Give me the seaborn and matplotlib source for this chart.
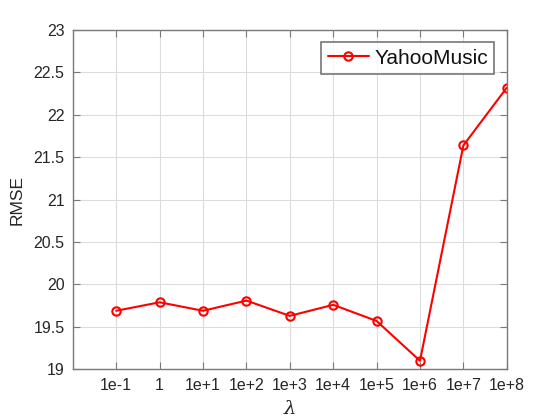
import numpy as np
import pandas as pd
import matplotlib
matplotlib.use("Agg")
import matplotlib.pyplot as plt
import seaborn as sns

# values
lambda_labels = ["1e-1", "1", "1e+1", "1e+2", "1e+3", "1e+4", "1e+5", "1e+6", "1e+7", "1e+8"]
rmse = [19.69, 19.79, 19.69, 19.81, 19.63, 19.76, 19.57, 19.10, 21.64, 22.32]
series_name = "YahooMusic"

df = pd.DataFrame({
    "pos": np.arange(1, len(lambda_labels) + 1),
    "RMSE": rmse,
    "series": series_name,
})

sns.set_style("white")
plt.rcParams["font.family"] = ["Liberation Sans", "DejaVu Sans"]
plt.rcParams["mathtext.fontset"] = "dejavuserif"

axis_gray = "#7a7a7a"
text_gray = "#262626"

fig = plt.figure(figsize=(5.6, 4.2), dpi=100)
ax = fig.add_axes([0.130, 0.1207, 0.775, 0.8079])

sns.lineplot(
    data=df, x="pos", y="RMSE", hue="series", palette=["#ff0000"],
    marker="o", markersize=6, markerfacecolor="none", markeredgecolor="#ff0000",
    markeredgewidth=1.5, linewidth=1.5, ax=ax,
)

ax.set_xlim(0, 10)
ax.set_ylim(19, 23)
ax.set_xticks(df["pos"])
ax.set_xticklabels(lambda_labels)
ax.set_yticks(np.arange(19, 23.01, 0.5))
ax.set_yticklabels(["19", "19.5", "20", "20.5", "21", "21.5", "22", "22.5", "23"])

ax.grid(True, color="#dcdcdc", linewidth=0.8)
ax.set_axisbelow(True)
for side in ["left", "right", "top", "bottom"]:
    ax.spines[side].set_visible(True)
    ax.spines[side].set_color(axis_gray)
    ax.spines[side].set_linewidth(1.0)
ax.tick_params(axis="both", which="major", direction="in", length=5, width=0.8,
               color=axis_gray, labelsize=11.5, labelcolor=text_gray,
               top=True, right=True, bottom=True, left=True, pad=6)

ax.set_xlabel(r"$\lambda$", fontsize=14, color=text_gray, labelpad=5)
ax.set_ylabel("RMSE", fontsize=12.5, color=text_gray, labelpad=6)

leg = ax.legend(loc="upper right", fontsize=15, frameon=True, fancybox=False,
                borderaxespad=0.6, borderpad=0.3, handlelength=2.0,
                handletextpad=0.25)
leg.get_frame().set_edgecolor("#555555")
leg.get_frame().set_linewidth(1.2)
for t in leg.get_texts():
    t.set_color("#111111")

fig.savefig("out.png", dpi=100)
plt.close(fig)
